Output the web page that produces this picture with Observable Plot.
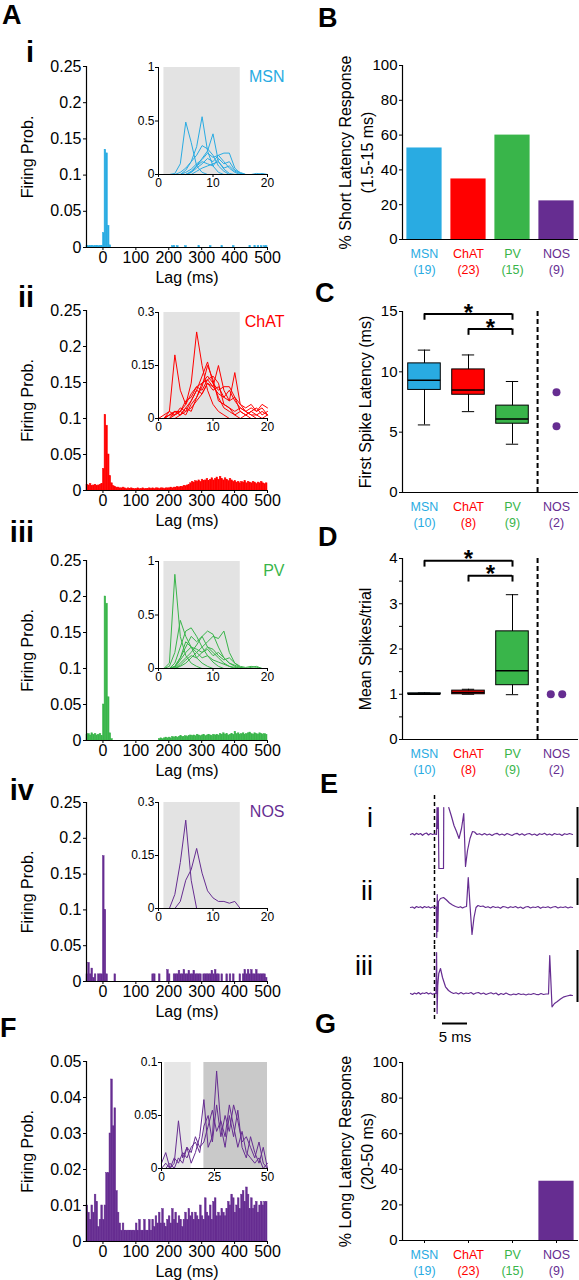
<!DOCTYPE html>
<html><head><meta charset="utf-8">
<script src="https://cdn.jsdelivr.net/npm/d3@7"></script>
<script src="https://cdn.jsdelivr.net/npm/@observablehq/plot@0.6"></script>
<style>
body{margin:0;background:#fff;}
#fig{position:relative;width:579px;height:1280px;overflow:hidden;font-family:"Liberation Sans",Arial,sans-serif;}
#fig svg{position:absolute;max-width:none;}
</style></head><body><div id="fig"></div>
<script>
// ---------------- DATA ----------------
const cells = ["MSN", "ChAT", "PV", "NOS"];
const cellColors = ["#29abe2", "#ff0000", "#39b54a", "#662d91"];
const nShort = [19, 23, 15, 9];
const pctShort = [52.6, 34.8, 60.0, 22.2];
const nBox = [10, 8, 9, 2];
const pctLong = [0, 0, 0, 33.3];
// [min, q1, median, q3, max]
const latencyStats = [[5.6, 8.5, 9.3, 10.7, 11.8], [6.7, 8.1, 8.5, 10.2, 11.4], [4.0, 5.7, 6.1, 7.2, 9.2]];
const latencyNOS = [8.3, 5.5];
const spikesStats = [[1.0, 1.0, 1.0, 1.02, 1.03], [1.0, 1.0, 1.04, 1.08, 1.11], [0.99, 1.2, 1.52, 2.39, 3.2]];
const spikesNOS = [1.0, 1.0];
const sigC = [{a: 0, b: 2, y: 14.8}, {a: 1, b: 2, y: 13.55}];
const sigD = [{a: 0, b: 2, y: 3.95}, {a: 1, b: 2, y: 3.62}];

const lagDomain = [-50, 500];
const lagTicks = [0, 100, 200, 300, 400, 500];
const probTicksA = [0, 0.05, 0.1, 0.15, 0.2, 0.25];
const probTicksF = [0, 0.01, 0.02, 0.03, 0.04, 0.05];
const binStart = -50, binWidth = 5;

const histMSN = [
 0.002,0.002,0.002,0.002,0.002,0.002,0.002,0.002,0.002,0.002,
 0.02,0.135,0.13,0.03,0.003,0,0,0,0,0,
 0,0,0,0,0,0,0,0,0,0,
 0,0,0,0,0,0,0,0,0,0,
 0,0,0,0,0,0,0,0,0,0,
 0,0,0.002,0.002,0,0.002,0,0,0,0,
 0.002,0,0,0,0,0,0,0,0.002,0,
 0,0,0,0,0,0.002,0,0,0,0,
 0,0,0.002,0,0,0,0,0,0,0.002,
 0,0,0,0,0,0,0,0,0,0.002,
 0,0,0.002,0,0.002,0,0.002,0,0.002,0.002];
const histChAT = [
 0.008,0.007,0.009,0.006,0.007,0.008,0.006,0.007,0.008,0.009,
 0.03,0.105,0.09,0.05,0.02,0.01,0.006,0.005,0.004,0.004,
 0.003,0.003,0.004,0.003,0.002,0.003,0.002,0.003,0.002,0.002,
 0.002,0.003,0.002,0.002,0.003,0.002,0.002,0.002,0.003,0.002,
 0.003,0.002,0.003,0.003,0.002,0.003,0.003,0.002,0.003,0.003,
 0.003,0.004,0.003,0.004,0.004,0.005,0.004,0.005,0.005,0.006,
 0.006,0.007,0.008,0.01,0.012,0.011,0.013,0.012,0.014,0.012,
 0.015,0.013,0.014,0.016,0.013,0.015,0.017,0.014,0.016,0.018,
 0.015,0.019,0.016,0.014,0.017,0.015,0.013,0.016,0.014,0.012,
 0.013,0.011,0.012,0.01,0.012,0.011,0.013,0.01,0.012,0.011,
 0.01,0.012,0.011,0.009,0.011,0.01,0.012,0.01,0.009,0.01];
const histPV = [
 0.008,0.009,0.007,0.01,0.008,0.009,0.007,0.008,0.009,0.006,
 0.05,0.2,0.19,0.06,0.01,0.002,0,0,0,0,
 0,0,0,0,0,0,0,0,0,0,
 0,0,0,0,0,0,0,0,0,0,
 0,0,0,0,0.002,0.003,0.002,0.003,0.004,0.003,
 0.004,0.003,0.005,0.004,0.005,0.004,0.005,0.006,0.005,0.005,
 0.006,0.005,0.006,0.007,0.006,0.007,0.006,0.008,0.007,0.006,
 0.007,0.008,0.006,0.007,0.008,0.007,0.006,0.008,0.007,0.008,
 0.007,0.009,0.008,0.01,0.008,0.009,0.007,0.008,0.009,0.008,
 0.012,0.009,0.01,0.008,0.009,0.01,0.008,0.009,0.01,0.011,
 0.009,0.008,0.01,0.009,0.008,0.01,0.009,0.008,0.009,0.008];
const histNOS = [
 0.01,0.026,0.01,0.018,0.005,0.01,0,0.01,0.01,0.01,
 0.175,0.1,0.01,0,0,0,0,0.01,0,0,
 0,0,0,0,0,0,0,0,0,0,
 0,0,0,0,0,0,0,0,0,0,
 0.01,0.01,0,0,0.01,0,0,0,0,0.016,
 0.01,0,0,0.01,0.01,0.01,0.015,0.01,0.01,0.016,
 0.01,0.01,0.015,0.01,0.01,0.015,0.01,0.01,0.01,0.01,
 0,0.01,0.01,0.01,0.01,0.01,0.015,0.01,0.016,0.01,
 0.01,0,0.01,0,0,0.01,0,0.01,0,0.01,
 0,0,0,0.01,0,0.01,0.016,0.01,0.016,0.01,
 0.016,0.01,0.01,0.016,0.01,0.01,0.01,0.01,0.01,0.005];
const histF = [
 0.01,0.008,0.006,0.01,0.008,0.013,0.011,0.004,0.006,0.01,
 0.006,0.01,0.019,0.019,0.03,0.045,0.032,0.037,0.014,0.008,
 0.005,0.003,0.005,0.003,0.003,0.003,0.003,0.003,0.003,0.003,
 0.005,0.003,0.006,0.003,0.003,0.006,0.003,0.003,0.006,0.003,
 0.006,0.004,0.007,0.005,0.008,0.005,0.009,0.005,0.004,0.006,
 0.007,0.005,0.009,0.006,0.008,0.005,0.007,0.006,0.004,0.006,
 0.008,0.006,0.009,0.007,0.008,0.006,0.008,0.007,0.006,0.01,
 0.007,0.006,0.012,0.008,0.007,0.01,0.006,0.011,0.012,0.007,
 0.008,0.007,0.009,0.008,0.007,0.009,0.011,0.01,0.013,0.012,
 0.008,0.01,0.012,0.009,0.013,0.014,0.011,0.015,0.013,0.009,
 0.012,0.009,0.01,0.011,0.008,0.01,0.011,0.01,0.011,0.011];

// inset traces: firing prob. at lags 0..20 ms (1 ms steps)
const insetMSN = [
 [0,0,0,0.01,0.1,0.49,0.3,0.08,0.02,0,0,0,0,0,0,0,0,0,0,0,0],
 [0,0,0,0,0,0.04,0.12,0.26,0.54,0.22,0.08,0.02,0,0,0,0,0,0,0,0,0],
 [0,0,0,0,0,0,0.02,0.08,0.15,0.22,0.38,0.12,0.05,0.01,0,0,0,0,0,0,0],
 [0,0,0,0,0.02,0.06,0.12,0.18,0.27,0.24,0.18,0.08,0.03,0,0,0,0,0,0,0,0],
 [0,0,0,0,0,0,0.02,0.06,0.1,0.15,0.12,0.18,0.2,0.2,0.06,0.01,0,0,0,0,0],
 [0,0,0,0,0,0.02,0.05,0.1,0.14,0.2,0.16,0.18,0.12,0.06,0.02,0,0,0,0,0,0],
 [0,0,0,0,0,0,0.03,0.08,0.12,0.1,0.08,0.15,0.1,0.12,0.04,0.02,0,0,0.01,0,0],
 [0,0,0,0,0,0,0,0.03,0.06,0.08,0.1,0.12,0.06,0.08,0.03,0.01,0,0,0,0.01,0]];
const insetChAT = [
 [0,0,0.02,0.18,0.08,0.04,0.1,0.245,0.15,0.08,0.04,0.02,0.01,0,0,0,0,0,0,0,0],
 [0,0,0.01,0.02,0.01,0.03,0.05,0.08,0.12,0.16,0.1,0.06,0.03,0.02,0.01,0,0.01,0.02,0.01,0,0],
 [0,0,0,0.01,0.02,0.01,0.04,0.06,0.1,0.11,0.09,0.15,0.08,0.05,0.13,0.04,0.02,0.01,0,0,0.01],
 [0,0,0.01,0.02,0.02,0.04,0.07,0.09,0.1,0.12,0.1,0.08,0.09,0.09,0.06,0.04,0.03,0.04,0.02,0.04,0.03],
 [0,0.01,0.02,0.01,0.03,0.02,0.05,0.08,0.07,0.1,0.09,0.07,0.06,0.05,0.06,0.02,0.01,0.02,0.03,0.01,0.02],
 [0,0,0,0.02,0.01,0.03,0.02,0.06,0.09,0.15,0.11,0.05,0.04,0.03,0.01,0.02,0.01,0,0,0,0],
 [0,0,0.01,0.01,0.02,0.05,0.06,0.09,0.08,0.11,0.12,0.1,0.04,0.03,0.02,0.03,0.02,0.01,0.01,0.02,0.01],
 [0,0,0,0,0.01,0.02,0.03,0.05,0.07,0.1,0.08,0.09,0.06,0.08,0.05,0.03,0.02,0.03,0.02,0.03,0.01]];
const insetPV = [
 [0,0,0.05,0.88,0.3,0.12,0.05,0.02,0,0,0,0,0,0,0,0,0,0,0,0,0],
 [0,0,0.02,0.15,0.45,0.3,0.2,0.1,0.05,0.02,0,0,0,0,0,0,0,0,0,0,0],
 [0,0,0,0.05,0.2,0.35,0.38,0.3,0.2,0.12,0.06,0.02,0,0,0,0,0,0,0,0,0],
 [0,0,0,0.02,0.1,0.2,0.3,0.25,0.3,0.2,0.15,0.1,0.05,0.02,0,0,0,0,0,0,0],
 [0,0,0,0,0.05,0.1,0.15,0.22,0.3,0.35,0.32,0.2,0.1,0.05,0.02,0,0,0,0,0,0],
 [0,0,0,0,0.02,0.05,0.1,0.15,0.2,0.25,0.3,0.28,0.35,0.15,0.05,0.01,0,0,0,0,0],
 [0,0,0,0.01,0.08,0.15,0.2,0.18,0.15,0.2,0.18,0.12,0.08,0.1,0.05,0.02,0.01,0.02,0.01,0,0],
 [0,0,0,0,0.03,0.08,0.12,0.1,0.15,0.18,0.12,0.15,0.1,0.05,0.03,0.01,0,0,0,0,0],
 [0,0,0,0.02,0.1,0.25,0.2,0.15,0.1,0.12,0.08,0.06,0.04,0.02,0.01,0,0,0.01,0.02,0,0]];
const insetNOS = [
 [0,0,0,0.04,0.13,0.25,0.08,0,0,0,0,0,0,0,0,0,0,0,0,0,0],
 [0,0,0,0,0.02,0.08,0.11,0.17,0.1,0.05,0.03,0.02,0.02,0.015,0.02,0,0,0,0,0,0]];
// F inset: lags 0..50 ms in 2 ms steps
const insetF = [
 [0.005,0.015,0,0.005,0.045,0.01,0.02,0.005,0.015,0.03,0.065,0.02,0.03,0.092,0.04,0.02,0.05,0.03,0.055,0.02,0.01,0.03,0.015,0.005,0.02,0],
 [0,0.005,0,0.01,0.005,0.015,0.01,0.02,0.025,0.015,0.04,0.05,0.025,0.06,0.03,0.05,0.035,0.06,0.045,0.025,0.03,0.02,0.01,0.025,0.005,0],
 [0,0,0.005,0,0.01,0.005,0.02,0.015,0.03,0.02,0.025,0.04,0.055,0.035,0.045,0.03,0.06,0.04,0.02,0.035,0.015,0.01,0.005,0.01,0,0.005]];
const shadeA = [{a: 1, b: 15, c: "#e3e3e3"}];
const shadeF = [{a: 1.5, b: 14, c: "#e6e6e6"}, {a: 20, b: 50, c: "#c9c9c9"}];

// E: example traces [time (ms), voltage (a.u.)]
const traceI = [[-4.8,0],[-4.4,0.1],[-4,-0.05],[-3.6,0.12],[-3.2,0],[-2.8,0.1],[-2.4,-0.08],[-2,0.08],[-1.6,0.15],[-1.2,-0.05],[-0.8,0.1],[-0.4,0],[0,0.05],[0.4,0],[0.5,2.7],[0.62,0.6],[0.75,2.7],[0.88,-3.4],[1.8,-3.4],[1.85,2.7],[1.9,null],[2.85,2.7],[3.4,1.8],[3.9,0.9],[4.4,0.3],[4.9,-0.4],[5.4,0.6],[5.85,2.1],[6.2,-3.2],[6.6,-1.6],[7.1,-0.4],[7.6,0.3],[8.0,0.25],[8.5,0],[9,0.08],[9.5,-0.05],[10,0.1],[10.5,-0.05],[11,0.05],[11.5,-0.1],[12,0.05],[12.5,0.12],[13,-0.05],[13.5,0.05],[14,-0.08],[14.5,0.1],[15,0],[15.5,-0.1],[16,0.05],[16.5,0.12],[17,-0.05],[17.5,0.08],[18,-0.08],[18.5,0.05],[19,0.1],[19.5,-0.05],[20,0.05],[20.5,-0.1],[21,0.08],[21.5,0],[22,0.12],[22.5,-0.05],[23,0.05],[23.5,-0.08],[24,0.1],[24.5,0],[25,0.05],[25.5,-0.1],[26,0.08],[26.5,0],[27,0.1],[27.6,0]];
const traceII = [[-4.8,0],[-4.4,0.05],[-4,-0.08],[-3.6,0.1],[-3.2,0],[-2.8,0.08],[-2.4,-0.05],[-2,0.1],[-1.6,0],[-1.2,0.08],[-0.8,-0.05],[-0.4,0.05],[0,0],[0.35,0.05],[0.45,-3.0],[0.55,1.3],[0.65,-2.4],[0.8,0.6],[1.2,0.9],[1.8,1.0],[2.4,0.75],[3.0,0.45],[3.6,0.25],[4.2,0.1],[4.8,0],[5.2,0.08],[5.6,-0.05],[6.0,0.05],[6.4,0.1],[6.75,3.0],[7.1,0.2],[7.5,-2.7],[7.9,-1.0],[8.3,0],[8.7,0.2],[9.2,0.1],[9.7,0.15],[10.2,0],[10.7,0.08],[11.2,-0.05],[11.7,0.1],[12.2,0],[12.7,0.05],[13.2,-0.08],[13.7,0.1],[14.2,0.05],[14.7,-0.05],[15.2,0.08],[15.7,0],[16.2,0.1],[16.7,-0.05],[17.2,0.05],[17.7,-0.1],[18.2,0.05],[18.7,0.1],[19.2,-0.05],[19.7,0.05],[20.2,0],[20.7,0.1],[21.2,-0.08],[21.7,0.05],[22.2,0],[22.7,0.08],[23.2,-0.05],[23.7,0.05],[24.2,0.1],[24.7,-0.05],[25.2,0.05],[25.7,0],[26.2,0.08],[26.7,-0.05],[27.2,0.05],[27.6,0]];
const traceIII = [[-4.8,0],[-4.4,-0.1],[-4,0.05],[-3.6,-0.05],[-3.2,0.1],[-2.8,-0.08],[-2.4,0.05],[-2,0],[-1.6,0.1],[-1.2,-0.05],[-0.8,0.05],[-0.4,-0.08],[0,0],[0.3,0],[0.42,4.1],[0.52,-2.0],[0.65,0.8],[0.85,2.0],[1.2,2.5],[1.6,1.6],[2.2,0.67],[2.8,0.3],[3.3,0.12],[3.8,0],[4.3,0.08],[4.8,-0.05],[5.3,0.1],[5.8,-0.05],[6.3,0.05],[6.8,0],[7.3,0.1],[7.8,-0.08],[8.3,0.05],[8.8,0.1],[9.3,-0.05],[9.8,0.05],[10.3,-0.1],[10.8,0],[11.3,0.08],[11.8,-0.05],[12.3,0.05],[12.8,-0.15],[13.3,0],[13.8,-0.1],[14.3,0.05],[14.8,-0.08],[15.3,-0.15],[15.8,-0.05],[16.3,-0.12],[16.8,0],[17.3,-0.1],[17.8,-0.05],[18.3,-0.15],[18.8,-0.05],[19.3,-0.1],[19.8,0],[20.3,-0.08],[20.8,-0.12],[21.3,0],[21.8,-0.1],[22.3,-0.05],[22.8,-0.05],[23.05,3.8],[23.5,-1.33],[24.0,-1.0],[24.5,-0.83],[25.2,-0.55],[25.9,-0.33],[26.5,-0.25],[27.2,-0.17],[27.6,-0.2]];
const traceScaleBars = [[-1.3, 2.7], [0.2, 2.9], [-0.9, 4.3]];
const timeBar = [1.6, 6.6];

const panelLetters = [["A", 2, 24], ["B", 318, 27], ["C", 315, 302], ["D", 318, 546], ["E", 320, 793], ["F", 0, 1037], ["G", 315, 1033]];
const rowNumeralsA = [["i", 62], ["ii", 307], ["iii", 542], ["iv", 800]];
const rowNumeralsE = [["i", 827], ["ii", 900], ["iii", 975]];

// ---------------- HELPERS ----------------
const FONT = '"Liberation Sans", Arial, sans-serif';
const fig = document.getElementById("fig");
function mk(frame, pads, opts, fontSize) {
  const [x0, x1, y0, y1] = frame, [l, r, t, b] = pads;
  const svg = Plot.plot({
    width: x1 - x0 + l + r, height: y1 - y0 + t + b,
    marginLeft: l, marginRight: r, marginTop: t, marginBottom: b,
    style: {background: "transparent", fontFamily: FONT, fontSize: (fontSize || 15) + "px", color: "#000", overflow: "visible"},
    ...opts
  });
  svg.style.position = "absolute";
  svg.style.left = (x0 - l) + "px";
  svg.style.top = (y0 - t) + "px";
  fig.appendChild(svg);
  return svg;
}
const bins = vals => vals.map((p, i) => ({x1: binStart + i * binWidth, x2: binStart + (i + 1) * binWidth, p}));
const flatten = (rows, step) => rows.flatMap((r, z) => r.map((v, k) => ({t: k * step, v, z})));

function histPanel(frame, vals, color, yTicks) {
  mk(frame, [80, 15, 8, 42], {
    x: {domain: lagDomain}, y: {domain: [yTicks[0], yTicks[yTicks.length - 1]]},
    marks: [
      Plot.rect(bins(vals).filter(d => d.p > 0), {x1: "x1", x2: "x2", y1: 0, y2: "p", fill: color, stroke: color, strokeWidth: 0.5, inset: 0}),
      Plot.ruleY([0], {strokeWidth: 1.2}),
      Plot.ruleX([lagDomain[0]], {strokeWidth: 1.2}),
      Plot.axisY({ticks: yTicks, tickSize: 3, tickPadding: 2, label: null, tickFormat: d => String(d)}),
      Plot.axisX({ticks: lagTicks, tickSize: 3, tickPadding: 1, label: null}),
      Plot.text(["Lag (ms)"], {text: d => d, frameAnchor: "bottom", lineAnchor: "middle", dx: 10, dy: 30, fontSize: 16}),
      Plot.text(["Firing Prob."], {text: d => d, frameAnchor: "left", textAnchor: "middle", lineAnchor: "middle", dx: -59, rotate: -90, fontSize: 16})
    ]
  }, 16);
}
function insetPanel(frame, rows, step, color, yTicks, xTicks, shade, name) {
  const yd = [yTicks[0], yTicks[yTicks.length - 1]], xd = [xTicks[0], xTicks[xTicks.length - 1]];
  const marks = [
    Plot.rect(shade, {x1: "a", x2: "b", y1: yd[0], y2: yd[1], fill: "c"}),
    Plot.line(flatten(rows, step), {x: "t", y: "v", z: "z", stroke: color, strokeWidth: 1}),
    Plot.ruleY([yd[0]], {strokeWidth: 1}),
    Plot.ruleX([xd[0]], {strokeWidth: 1}),
    Plot.axisY({ticks: yTicks, tickSize: 3, tickPadding: 1, label: null, tickFormat: d => String(d)}),
    Plot.axisX({ticks: xTicks, tickSize: 3, tickPadding: 1, label: null})
  ];
  if (name) marks.push(Plot.text([name], {text: d => d, frameAnchor: "top-right", textAnchor: "end", lineAnchor: "middle", dx: 17, dy: 9, fill: color, fontSize: 16}));
  mk(frame, [40, 22, 8, 22], {x: {domain: xd}, y: {domain: yd}, color: {type: "identity"}, marks}, 12);
}
const catData = cells.map((name, i) => ({i, name, c: cellColors[i]}));
function catLabels(ns) {
  return [
    Plot.text(catData, {x: "i", text: "name", fill: "c", frameAnchor: "bottom", lineAnchor: "middle", dy: 14, fontSize: 12.5}),
    Plot.text(catData, {x: "i", text: d => `(${ns[d.i]})`, fill: "c", frameAnchor: "bottom", lineAnchor: "middle", dy: 30, fontSize: 12.5})
  ];
}
function yLabel(lines, offsets) {
  return lines.map((s, k) => Plot.text([s], {text: d => d, frameAnchor: "left", textAnchor: "middle", lineAnchor: "middle", rotate: -90, dx: offsets[k], fontSize: 16}));
}
function barPanel(frame, vals, ns, lines, catTicks) {
  const data = vals.map((v, i) => ({i, v, c: cellColors[i]}));
  const marks = [
    Plot.rect(data, {x1: d => d.i - 0.4, x2: d => d.i + 0.4, y1: 0, y2: "v", fill: "c"}),
    Plot.ruleY([0], {strokeWidth: 1.2}),
    Plot.ruleX([-0.5], {strokeWidth: 1.2}),
    Plot.axisY({ticks: [0, 20, 40, 60, 80, 100], tickSize: 3, tickPadding: 2, label: null}),
    ...catLabels(ns),
    ...yLabel(lines, [-57, -35])
  ];
  if (catTicks) marks.push(Plot.axisX({ticks: [0, 1, 2, 3], tickSize: 3, tickFormat: () => "", label: null}));
  mk(frame, [112, 2, 8, 45], {
    x: {domain: [-0.5, 3.5], axis: null}, y: {domain: [0, 100]}, color: {type: "identity"}, marks
  }, 15);
}
function boxPanel(frame, stats, nos, sig, yDomain, yTicks, tickFmt, label, nosSpread) {
  const data = stats.map((s, i) => ({i, min: s[0], q1: s[1], med: s[2], q3: s[3], max: s[4], c: cellColors[i]}));
  const hw = 0.37, cap = 0.14;
  mk(frame, [112, 2, 8, 45], {
    x: {domain: [-0.5, 3.5], axis: null}, y: {domain: yDomain}, color: {type: "identity"},
    marks: [
      Plot.ruleX([2.57], {strokeDasharray: "5,3", strokeWidth: 2}),
      Plot.ruleX(data, {x: "i", y1: "min", y2: "max", strokeWidth: 1}),
      Plot.ruleY(data, {x1: d => d.i - cap, x2: d => d.i + cap, y: "min", strokeWidth: 1}),
      Plot.ruleY(data, {x1: d => d.i - cap, x2: d => d.i + cap, y: "max", strokeWidth: 1}),
      Plot.rect(data, {x1: d => d.i - hw, x2: d => d.i + hw, y1: "q1", y2: "q3", fill: "c", stroke: "#000", strokeWidth: 1}),
      Plot.ruleY(data, {x1: d => d.i - hw, x2: d => d.i + hw, y: "med", strokeWidth: 1.5}),
      Plot.dot(nos, {x: (d, k) => 3 + (nos.length > 1 && nosSpread ? (k - 0.5) * 0.26 : 0), y: d => d, r: 4, fill: cellColors[3], stroke: "none"}),
      Plot.ruleY(sig, {x1: "a", x2: "b", y: "y", strokeWidth: 2}),
      Plot.ruleX(sig, {x: "a", y1: d => d.y - (yDomain[1] * 0.035), y2: "y", strokeWidth: 2}),
      Plot.ruleX(sig, {x: "b", y1: d => d.y - (yDomain[1] * 0.035), y2: "y", strokeWidth: 2}),
      Plot.text(sig, {x: d => (d.a + d.b) / 2, y: "y", text: () => "*", dy: -1, fontSize: 24, fontWeight: "bold"}),
      Plot.ruleY([0], {strokeWidth: 1.2}),
      Plot.ruleX([-0.5], {strokeWidth: 1.2}),
      Plot.axisY({ticks: yTicks, tickSize: 3, tickPadding: 2, label: null, tickFormat: tickFmt}),
      ...catLabels(nBox),
      ...yLabel([label], [-37])
    ]
  }, 15);
}

// ---------------- PANEL A ----------------
histPanel([86, 267, 66, 247], histMSN, cellColors[0], probTicksA);
insetPanel([158, 267, 67, 174], insetMSN, 1, cellColors[0], [0, 0.5, 1], [0, 10, 20], shadeA, "MSN");
histPanel([86, 267, 310, 490], histChAT, cellColors[1], probTicksA);
insetPanel([158, 267, 312, 418], insetChAT, 1, cellColors[1], [0, 0.15, 0.3], [0, 10, 20], shadeA, "ChAT");
histPanel([86, 267, 560, 740], histPV, cellColors[2], probTicksA);
insetPanel([158, 267, 561, 668], insetPV, 1, cellColors[2], [0, 0.5, 1], [0, 10, 20], shadeA, "PV");
histPanel([86, 267, 802, 981], histNOS, cellColors[3], probTicksA);
insetPanel([158, 267, 802, 908], insetNOS, 1, cellColors[3], [0, 0.15, 0.3], [0, 10, 20], shadeA, "NOS");
// ---------------- PANEL F ----------------
histPanel([86, 267, 1061, 1241], histF, cellColors[3], probTicksF);
insetPanel([161, 267, 1062, 1168], insetF, 2, cellColors[3], [0, 0.05, 0.1], [0, 25, 50], shadeF, null);

// ---------------- PANEL B / G ----------------
barPanel([402, 578, 65, 239], pctShort, nShort, ["% Short Latency Response", "(1.5-15 ms)"], false);
barPanel([402, 578, 1062, 1240], pctLong, nShort, ["% Long Latency Response", "(20-50 ms)"], true);

// ---------------- PANEL C / D ----------------
boxPanel([402, 578, 311, 492], latencyStats, latencyNOS, sigC, [0, 15], [0, 5, 10, 15], d => String(d), "First Spike Latency (ms)", false);
boxPanel([402, 578, 558, 739], spikesStats, spikesNOS, sigD, [0, 4], [0, 0.5, 1, 1.5, 2, 2.5, 3, 3.5, 4], d => Number.isInteger(d) ? String(d) : "", "Mean Spikes/trial", true);

// ---------------- PANEL E ----------------
const tDomain = [-5, 29];
const traceFrames = [[795, 870, [-3.6, 3.9]], [870, 945, [-3.8, 3.7]], [945, 1020, [-2.7, 4.8]]];
[traceI, traceII, traceIII].forEach((tr, k) => {
  const [y0, y1, yd] = traceFrames[k];
  const marks = [
    Plot.ruleX([0], {strokeDasharray: "4,3", strokeWidth: 1.5}),
    Plot.line(tr, {x: d => d[0], y: d => d[1], stroke: cellColors[3], strokeWidth: 1.2}),
    Plot.ruleX([traceScaleBars[k]], {x: 28.6, y1: d => d[0], y2: d => d[1], strokeWidth: 2})
  ];
  if (k === 2) {
    marks.push(Plot.ruleY([timeBar], {x1: d => d[0], x2: d => d[1], y: -3.0, strokeWidth: 2}));
    marks.push(Plot.text([timeBar], {x: d => (d[0] + d[1]) / 2, y: -3.0, text: () => "5 ms", dy: 14, fontSize: 15}));
  }
  mk([409, 579, y0, y1], [0, 0, 0, k === 2 ? 30 : 0], {x: {domain: tDomain, axis: null}, y: {domain: yd, axis: null}, marks}, 15);
});

// ---------------- LABEL OVERLAY ----------------
const ov = d3.select(fig).append("svg").attr("width", 579).attr("height", 1280)
  .style("left", "0px").style("top", "0px").style("pointer-events", "none")
  .attr("font-family", FONT);
ov.selectAll("text.pl").data(panelLetters).join("text").attr("class", "pl")
  .attr("x", d => d[1]).attr("y", d => d[2]).attr("font-size", 27).attr("font-weight", "bold").text(d => d[0]);
ov.selectAll("text.na").data(rowNumeralsA).join("text").attr("class", "na")
  .attr("x", 34).attr("y", d => d[1]).attr("text-anchor", "end").attr("font-size", 29).attr("font-weight", "bold").text(d => d[0]);
ov.selectAll("text.ne").data(rowNumeralsE).join("text").attr("class", "ne")
  .attr("x", 373).attr("y", d => d[1]).attr("text-anchor", "end").attr("font-size", 27).text(d => d[0]);
</script></body></html>
